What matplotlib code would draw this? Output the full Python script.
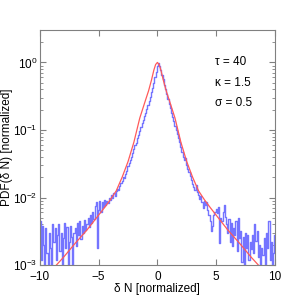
import numpy as np
import matplotlib
matplotlib.use("Agg")
import matplotlib.pyplot as plt
import matplotlib.ticker as ticker

plt.rcParams['font.family'] = ['Liberation Sans', 'DejaVu Sans']
plt.rcParams['mathtext.fontset'] = 'custom'
plt.rcParams['mathtext.rm'] = 'Liberation Sans'

# measured PDF, bins of 0.1 from -10 to 10
bin_x = np.round(np.arange(-100, 101) / 10, 1)
pdf_measured = [
    0.0045, 0.0012, 0.0038, 0.0020, 0.0008, 0.0035, 0.0015, 0.0006, 0.0030, 0.0018,
    0.0009, 0.0040, 0.0022, 0.0035, 0.0012, 0.0028, 0.0040, 0.0016, 0.0030, 0.0008,
    0.0025, 0.0042, 0.0018, 0.0036, 0.0010, 0.0022, 0.0038, 0.0026, 0.0007, 0.0030,
    0.0035, 0.0019, 0.0042, 0.0028, 0.0045, 0.0024, 0.0038, 0.0030, 0.0046, 0.0033,
    0.0040, 0.0050, 0.0036, 0.0055, 0.0042, 0.0060, 0.0048, 0.0075, 0.0085, 0.0018,
    0.0065, 0.0090, 0.0060, 0.0085, 0.0072, 0.0092, 0.0078, 0.0088, 0.0082, 0.0098,
    0.0092, 0.0110, 0.0100, 0.0118, 0.0105, 0.0125, 0.0135, 0.0128, 0.0150, 0.0165,
    0.0175, 0.0200, 0.0195, 0.0220, 0.0250, 0.0290, 0.0320, 0.0360, 0.0400, 0.0460,
    0.0520, 0.0590, 0.0650, 0.0750, 0.0850, 0.0980, 0.1100, 0.1250, 0.1420, 0.1600,
    0.180, 0.205, 0.235, 0.270, 0.310, 0.360, 0.420, 0.500, 0.600, 0.720,
    0.880,
    0.970, 0.900, 0.780, 0.660, 0.560, 0.470, 0.400, 0.340, 0.290, 0.245,
    0.210, 0.180, 0.155, 0.135, 0.115, 0.100, 0.088, 0.076, 0.066, 0.056,
    0.047, 0.040, 0.036, 0.038, 0.030, 0.026, 0.024, 0.021, 0.018, 0.016,
    0.0145, 0.0130, 0.0155, 0.0120, 0.0110, 0.0095, 0.0105, 0.0085, 0.0070, 0.0090,
    0.0078, 0.0085, 0.0065, 0.0055, 0.0045, 0.0032, 0.0038, 0.0055, 0.0062, 0.0068,
    0.0058, 0.0072, 0.0021, 0.0050, 0.0045, 0.0060, 0.0078, 0.0052, 0.0040, 0.0030,
    0.0048, 0.0022, 0.0042, 0.0019, 0.0035, 0.0028, 0.0045, 0.0016, 0.0050, 0.0025,
    0.0032, 0.0011, 0.0026, 0.0008, 0.0030, 0.0018, 0.0028, 0.0012, 0.0022, 0.0017,
    0.0028, 0.0015, 0.0040, 0.0023, 0.0032, 0.0013, 0.0020, 0.0009, 0.0018, 0.0014,
    0.0025, 0.0010, 0.0030, 0.0018, 0.0045, 0.0012, 0.0022, 0.0008, 0.0015, 0.0028,
]

# model curve
fit_x = [-10, -9, -8.6, -8, -7, -6, -5, -4.5, -4, -3.5, -3, -2.5, -2, -1.5, -1,
         -0.75, -0.5, -0.3, -0.15, 0, 0.15, 0.3, 0.5, 0.75, 1, 1.5, 2, 2.5, 3,
         3.5, 4, 4.5, 5, 6, 7, 8, 8.6, 9, 10]
fit_y = [0.00052, 0.00083, 0.0010, 0.0013, 0.0021, 0.0033, 0.0055, 0.0071,
         0.0093, 0.0126, 0.020, 0.034, 0.066, 0.15, 0.28, 0.38, 0.55, 0.77,
         0.93, 1.0, 0.93, 0.77, 0.55, 0.38, 0.28, 0.15, 0.066, 0.034, 0.020,
         0.0126, 0.0093, 0.0071, 0.0055, 0.0033, 0.0021, 0.0013, 0.0010,
         0.00083, 0.00052]

fig = plt.figure(figsize=(3.05, 3.05), dpi=100)
ax = fig.add_axes([0.131, 0.131, 0.770, 0.770])

ax.plot(bin_x, pdf_measured, color='#7474ff', linewidth=1.0, drawstyle='steps-mid')
ax.plot(fit_x, fit_y, color='#ff5a5a', linewidth=0.9)

ax.set_yscale('log')
ax.set_xlim(-10, 10)
ax.set_ylim(1e-3, 3)
ax.set_xticks([-10, -5, 0, 5, 10])
ax.set_yticks([1e-3, 1e-2, 1e-1, 1e0])
ax.set_yticklabels([r'$10^{-3}$', r'$10^{-2}$', r'$10^{-1}$', r'$10^{0}$'])
ax.yaxis.set_minor_locator(ticker.LogLocator(base=10, subs=np.arange(2, 10)))
ax.yaxis.set_minor_formatter(ticker.NullFormatter())

ax.tick_params(which='both', direction='in', top=True, right=True,
               labelsize=8.5, color='#808080', pad=2)
ax.tick_params(axis='x', pad=4)
ax.tick_params(which='major', length=4)
ax.tick_params(which='minor', length=2)
for s in ax.spines.values():
    s.set_color('#808080')
    s.set_linewidth(0.8)

ax.set_xlabel('δ N [normalized]', fontsize=8.5, labelpad=0)
ax.set_ylabel('PDF(δ N) [normalized]', fontsize=8.5)
ax.yaxis.set_label_coords(-0.115, 0.5)

ax.text(4.9, 1.0, 'τ = 40', fontsize=8.5, va='center')
ax.text(4.9, 0.5, 'κ = 1.5', fontsize=8.5, va='center')
ax.text(4.9, 0.25, 'σ = 0.5', fontsize=8.5, va='center')

fig.savefig('out.png', dpi=100)
